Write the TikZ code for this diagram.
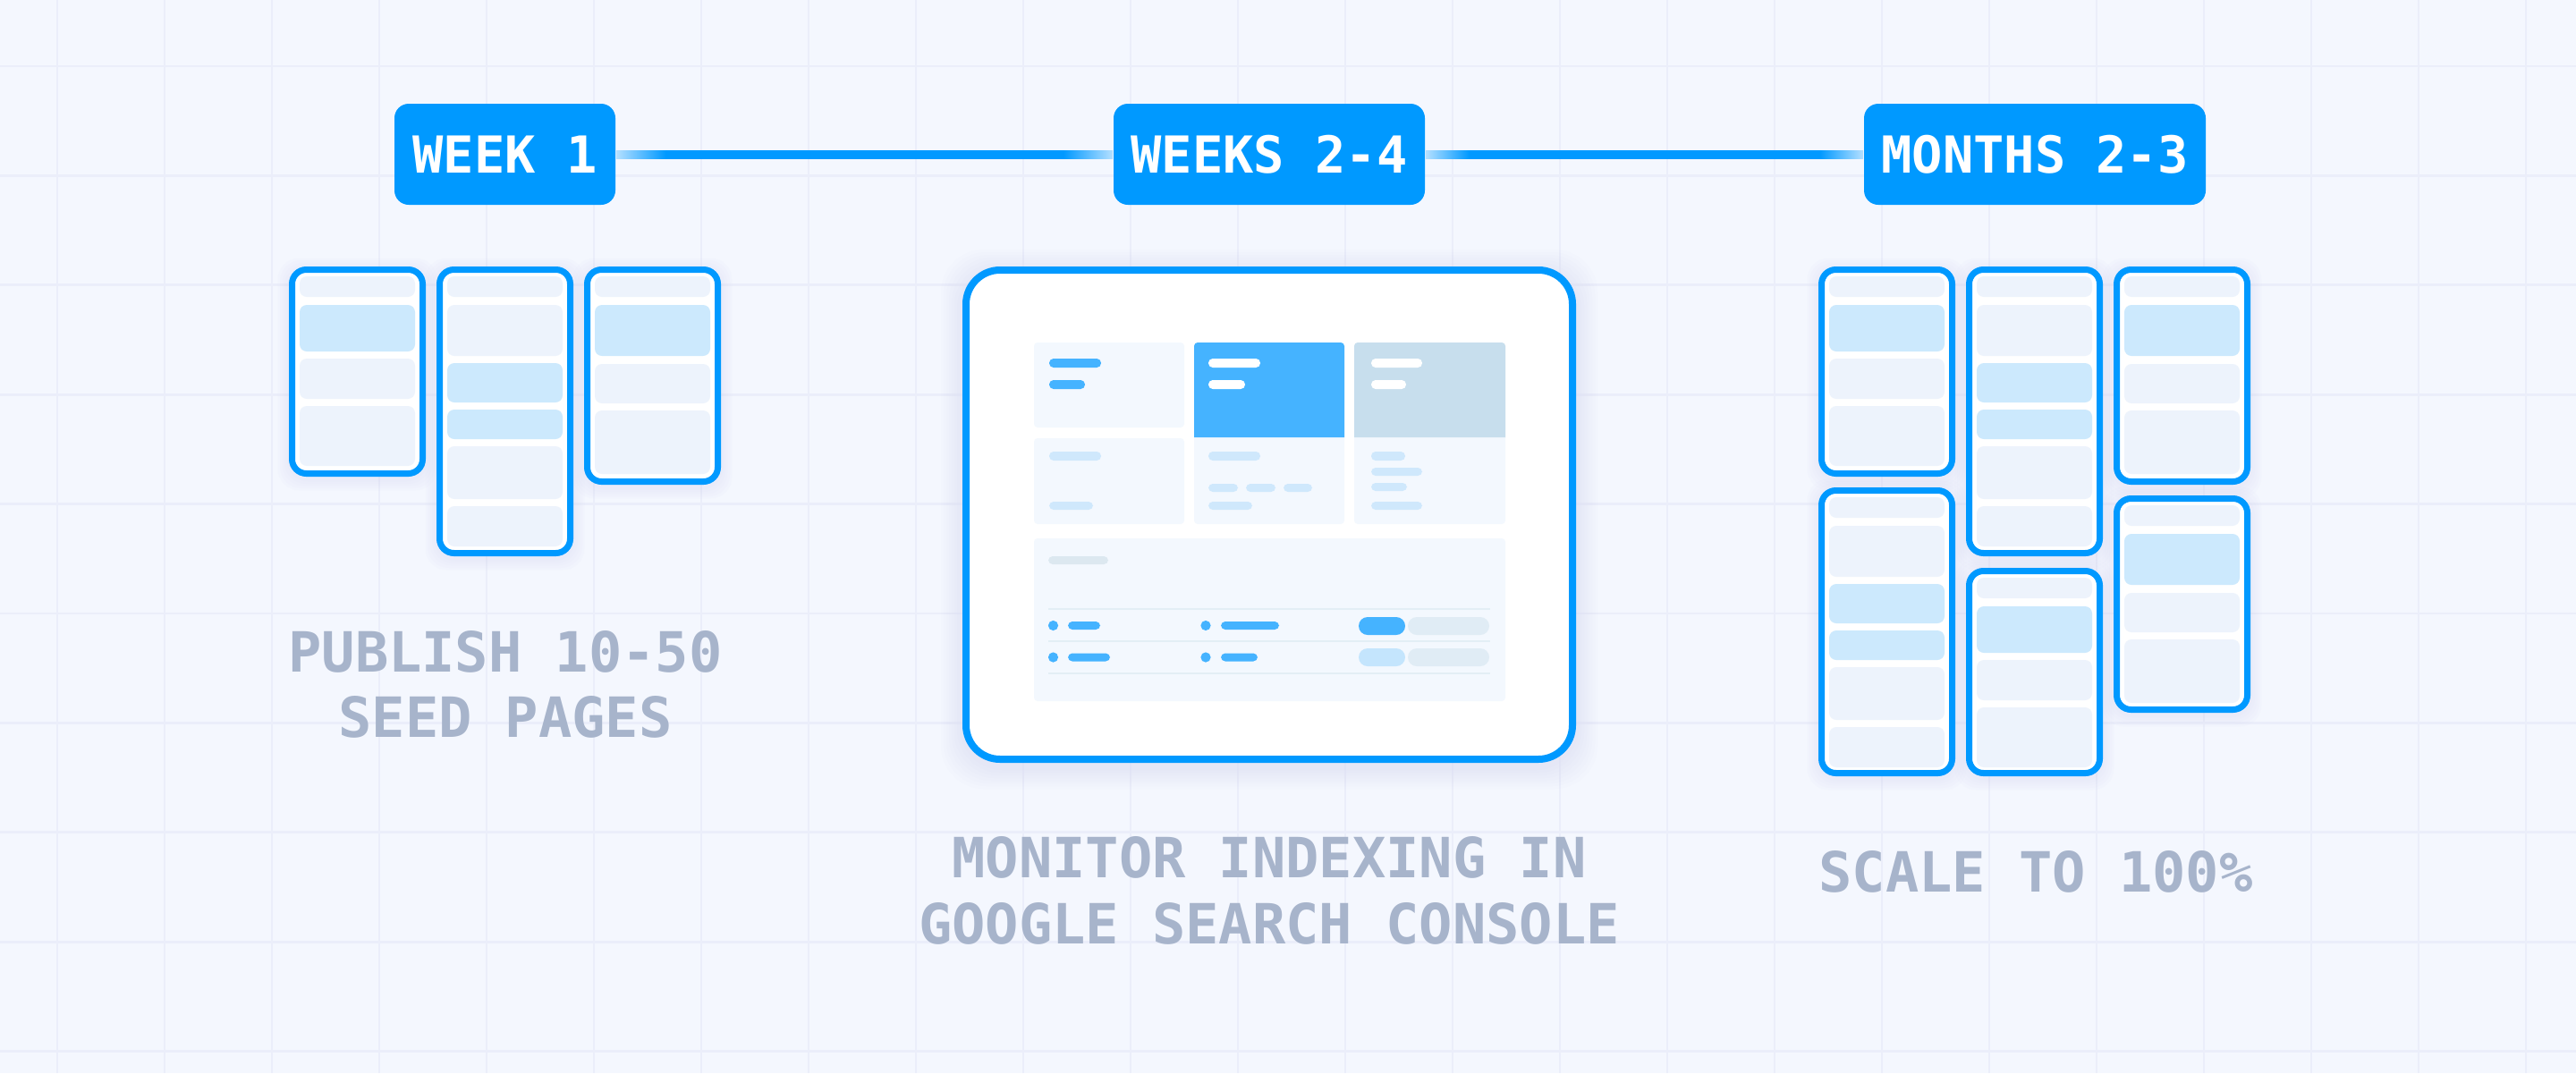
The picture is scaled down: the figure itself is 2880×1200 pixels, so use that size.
\documentclass[tikz,border=0pt]{standalone}
\usepackage{fontspec}
\newfontfamily\monob{DejaVu Sans Mono}
\usetikzlibrary{calc}
\definecolor{bg}{HTML}{F4F7FE}
\definecolor{gridc}{HTML}{EBEEFA}
\definecolor{tagblue}{HTML}{0099FF}
\definecolor{linefade}{HTML}{B5E0FF}
\definecolor{labelc}{HTML}{A7B4CB}
\definecolor{cellg}{HTML}{EDF3FC}
\definecolor{cellb}{HTML}{CCE9FD}
\definecolor{cardlight}{HTML}{F3F8FE}
\definecolor{cardblue}{HTML}{45B3FF}
\definecolor{cardgray}{HTML}{C7DEED}
\definecolor{barlight}{HTML}{CFE8FC}
\definecolor{bargray}{HTML}{DCE8F0}
\definecolor{pillgray}{HTML}{E0ECF5}
\definecolor{pilllight}{HTML}{C4E5FD}
\definecolor{divc}{HTML}{E3EEF5}
\definecolor{glowc}{HTML}{D5D7F5}
\pgfdeclarehorizontalshading{connfade}{100bp}{color(0bp)=(linefade); color(25bp)=(linefade); color(30bp)=(tagblue); color(70bp)=(tagblue); color(75bp)=(linefade); color(100bp)=(linefade)}
\tikzset{
  tagbox/.style={fill=tagblue, text=white, rounded corners=4pt, minimum height=28.25pt, inner sep=0pt, font=\monob\bfseries\fontsize{14.25}{17}\selectfont},
  lbl/.style={text=labelc, inner sep=0pt, anchor=base, font=\monob\bfseries\fontsize{15.5}{18.5}\selectfont},
  conn/.style={shading=connfade},
  phoneframe/.style={draw=tagblue, fill=white, line width=1.75pt, rounded corners=4pt},
  cellbox/.style={rounded corners=2pt},
}
\newcommand\drawphone[4]{%
  \foreach \g in {1,...,5}{\fill[glowc, opacity=0.07, rounded corners=6pt] (#1-2.5*\g, #2-2.5*\g+3) rectangle (#1+153+2.5*\g, #2+#3+2.5*\g+3);}
  \draw[phoneframe] (#1+3.5,#2+3.5) rectangle (#1+149.5,#2+#3-3.5);
  \foreach \a/\b/\c in #4 {\fill[\c, cellbox] (#1+12,#2+\a) rectangle (#1+141,#2+\b);}
}
\newcommand\pbar[5]{\fill[#5, rounded corners=1.2pt] (#1,#3) rectangle (#2,#4);}
\newcommand\typeA{11/34/cellg, 43/95/cellb, 103/148/cellg, 156/223/cellg}
\newcommand\typeB{11/34/cellg, 43/100/cellg, 108/152/cellb, 160/193/cellb, 201/260/cellg, 268/313/cellg}
\newcommand\typeC{11/34/cellg, 43/100/cellb, 109/153/cellg, 161/232/cellg}
\begin{document}
\begin{tikzpicture}[x=0.25pt, y=-0.25pt]
\useasboundingbox (0,0) rectangle (2880,1200);
\fill[bg] (0,0) rectangle (2880,1200);
% grid
\foreach \i in {0,...,23} \draw[gridc, line width=0.5pt] ({64+120*\i},0) -- ({64+120*\i},1200);
\foreach \j in {0,...,9} \draw[gridc, line width=0.7pt] (0,{74+122.4*\j}) -- (2880,{74+122.4*\j});

% left phones
\drawphone{323}{298}{235}{\typeA}
\drawphone{488}{298}{324}{\typeB}
\drawphone{653}{298}{244}{\typeC}

% right phones
\drawphone{2033}{298}{235}{\typeA}
\drawphone{2033}{545}{323}{\typeB}
\drawphone{2198}{298}{324}{\typeB}
\drawphone{2198}{635}{233}{\typeA}
\drawphone{2363}{298}{244}{\typeC}
\drawphone{2363}{554}{243}{\typeC}

% tablet
\foreach \g in {1,...,8}{\fill[glowc, opacity=0.06, rounded corners=12pt] (1076-3*\g, 298-3*\g+5) rectangle (1762+3*\g, 853+3*\g+5);}
\draw[draw=tagblue, fill=white, line width=2pt, rounded corners=9.5pt] (1080,302) rectangle (1758,849);
% cards
\fill[cardlight, rounded corners=1pt] (1156,383) rectangle (1324,478);
\fill[cardlight, rounded corners=1pt] (1156,490) rectangle (1324,586);
\fill[cardlight, rounded corners=1pt] (1335,383) rectangle (1503,586);
\fill[cardblue] (1335,489) [rounded corners=1pt] -- (1335,383) -- (1503,383) [sharp corners] -- (1503,489) -- cycle;
\fill[cardlight, rounded corners=1pt] (1514,383) rectangle (1683,586);
\fill[cardgray] (1514,489) [rounded corners=1pt] -- (1514,383) -- (1683,383) [sharp corners] -- (1683,489) -- cycle;
% card bars
\pbar{1173}{1231}{401}{411}{cardblue}
\pbar{1173}{1213}{425}{435}{cardblue}
\pbar{1351}{1409}{401}{411}{white}
\pbar{1351}{1392}{425}{435}{white}
\pbar{1533}{1590}{401}{411}{white}
\pbar{1533}{1572}{425}{435}{white}
\pbar{1173}{1231}{505}{515}{barlight}
\pbar{1173}{1222}{561}{570}{barlight}
\pbar{1351}{1409}{505}{515}{barlight}
\pbar{1351}{1384}{541}{550}{barlight}
\pbar{1393}{1426}{541}{550}{barlight}
\pbar{1435}{1467}{541}{550}{barlight}
\pbar{1351}{1400}{561}{570}{barlight}
\pbar{1533}{1571}{505}{515}{barlight}
\pbar{1533}{1590}{523}{532}{barlight}
\pbar{1533}{1573}{540}{549}{barlight}
\pbar{1533}{1590}{561}{570}{barlight}
% bottom panel
\fill[cardlight, rounded corners=1pt] (1156,602) rectangle (1683,784);
\pbar{1172}{1239}{622}{631}{bargray}
\foreach \yy in {681,717,753} \draw[divc, line width=0.45pt] (1172,\yy) -- (1666,\yy);
\fill[cardblue] (1177.5,699.5) circle (1.4pt);
\fill[cardblue] (1348,699.5) circle (1.4pt);
\fill[cardblue] (1177.5,735) circle (1.4pt);
\fill[cardblue] (1348,735) circle (1.4pt);
\pbar{1194}{1230}{695}{704}{cardblue}
\pbar{1365}{1430}{695}{704}{cardblue}
\pbar{1194}{1241}{730.5}{739.5}{cardblue}
\pbar{1365}{1406}{730.5}{739.5}{cardblue}
\fill[cardblue, rounded corners=2.5pt] (1519,690) rectangle (1571,710);
\fill[pillgray, rounded corners=2.5pt] (1574,690) rectangle (1665,710);
\fill[pilllight, rounded corners=2.5pt] (1519,725) rectangle (1571,745);
\fill[pillgray, rounded corners=2.5pt] (1574,725) rectangle (1665,745);

% tags
\node[tagbox, minimum width=61.75pt] (w1) at (564.5,172.5) {WEEK 1};
\node[tagbox, minimum width=87pt] (w24) at (1419,172.5) {WEEKS 2-4};
\node[tagbox, minimum width=95.5pt] (m23) at (2275,172.5) {MONTHS 2-3};
% connectors (shaded bars from tag to tag)
\shade[conn] ($(w1.east)+(0,-4.5)$) rectangle ($(w24.west)+(0,4.5)$);
\shade[conn] ($(w24.east)+(0,-4.5)$) rectangle ($(m23.west)+(0,4.5)$);

% labels
\node[lbl] (l1a) at (565,751) {PUBLISH 10-50};
\node[lbl] (l1b) at (565,824) {SEED PAGES};
\node[lbl] (l2a) at (1419,981) {MONITOR INDEXING IN};
\node[lbl] (l2b) at (1419,1055) {GOOGLE SEARCH CONSOLE};
\node[lbl] (l3a) at (2276,997) {SCALE TO 100\%};
\end{tikzpicture}
\end{document}
